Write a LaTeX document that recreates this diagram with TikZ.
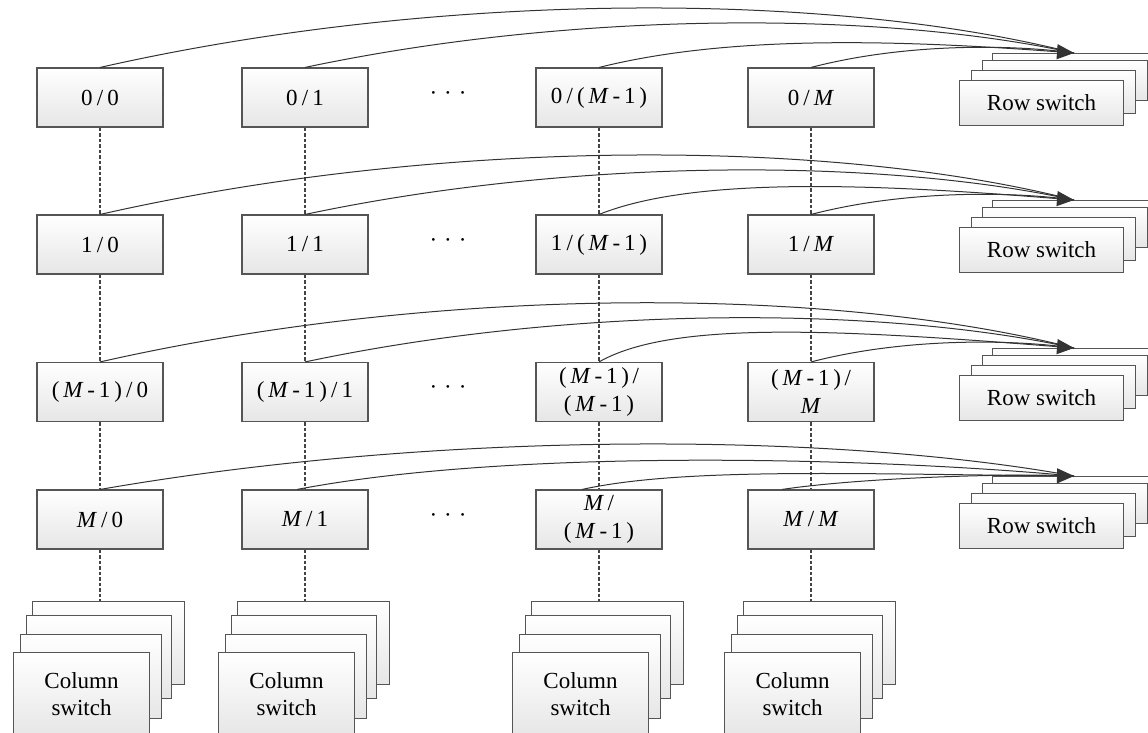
\documentclass[tikz,border=0pt]{standalone}
\usepackage{fontspec}
\setmainfont{Liberation Serif}
\usetikzlibrary{arrows.meta,calc}
\definecolor{edge}{HTML}{555555}
\definecolor{ln}{HTML}{333333}
\definecolor{dotc}{HTML}{444444}
\definecolor{shadeclr}{HTML}{E6E6E6}
\newcommand\Mone{(\,\textit{M}\,-\,1\,)}
\newcommand\slsep{\hspace{0.18em}/\hspace{0.18em}}
\begin{document}
\begin{tikzpicture}[x=1pt,y=-1pt,
  box/.style={draw=edge, line width=1.1pt, top color=white, bottom color=shadeclr,
    minimum width=126pt, minimum height=59pt, inner sep=0pt, align=center,
    font=\fontsize{23}{28}\selectfont},
  layer/.style={draw=edge, line width=1.1pt, top color=white, bottom color=shadeclr,
    inner sep=0pt, anchor=north west, align=center, font=\fontsize{23}{27}\selectfont},
  dotline/.style={draw=dotc, line width=1.8pt, dash pattern=on 3.5pt off 2pt},
  link/.style={draw=ln, line width=1pt},
  tipped/.style={link, -{Triangle[length=17pt,width=15pt]}},
  dotsx/.style={font=\fontsize{23}{28}\selectfont, inner sep=0pt}
]
\useasboundingbox (0,0) rectangle (1148,733);
\clip (0,0) rectangle (1148,733);

% grid boxes
\node[box] (b00) at (100,97.5) {0\slsep0};
\node[box] (b01) at (305,97.5) {0\slsep1};
\node[box] (b02) at (599,97.5) {0\slsep\Mone};
\node[box] (b03) at (811,97.5) {0\slsep\textit{M}};
\node[box] (b10) at (100,244.5) {1\slsep0};
\node[box] (b11) at (305,244.5) {1\slsep1};
\node[box] (b12) at (599,244.5) {1\slsep\Mone};
\node[box] (b13) at (811,244.5) {1\slsep\textit{M}};
\node[box] (b20) at (100,392) {\Mone\slsep0};
\node[box] (b21) at (305,392) {\Mone\slsep1};
\node[box] (b22) at (599,392) {\Mone\hspace{0.15em}/\\\Mone};
\node[box] (b23) at (811,392) {\Mone\hspace{0.15em}/\\\textit{M}};
\node[box] (b30) at (100,519.5) {\textit{M}\slsep0};
\node[box] (b31) at (305,519.5) {\textit{M}\slsep1};
\node[box] (b32) at (599,519.5) {\textit{M}\hspace{0.15em}/\\\Mone};
\node[box] (b33) at (811,519.5) {\textit{M}\slsep\textit{M}};

% ellipsis dots
\node[dotsx] (d0) at (448,96) {·\hspace{7pt}·\hspace{7pt}·};
\node[dotsx] (d1) at (448,243) {·\hspace{7pt}·\hspace{7pt}·};
\node[dotsx] (d2) at (448,390) {·\hspace{7pt}·\hspace{7pt}·};
\node[dotsx] (d3) at (448,518) {·\hspace{7pt}·\hspace{7pt}·};

% column switch stacks
\foreach \c/\cx in {0/100,1/305,2/599,3/811}{
  \node[layer, minimum width=152pt, minimum height=83pt] (cs\c d) at (\cx-68,601) {};
  \node[layer, minimum width=145pt, minimum height=83pt] (cs\c c) at (\cx-74,615) {};
  \node[layer, minimum width=141pt, minimum height=84pt] (cs\c b) at (\cx-80,634) {};
  \node[layer, minimum width=136pt, minimum height=84pt] (cs\c a) at (\cx-87,652) {Column\\switch};
}

% row switch stacks
\foreach \r/\ty in {0/53,1/200,2/348,3/476}{
  \node[layer, minimum width=168pt, minimum height=40pt] (rs\r d) at (992,\ty) {};
  \node[layer, minimum width=165pt, minimum height=40pt] (rs\r c) at (982,\ty+7) {};
  \node[layer, minimum width=164pt, minimum height=43pt] (rs\r b) at (971,\ty+17) {};
  \node[layer, minimum width=164pt, minimum height=45pt] (rs\r a) at (959,\ty+27) {Row switch};
  \coordinate (tip\r) at ($(rs\r d.north west)+(82,0)$);
}

% dotted column links
\foreach \c in {0,1,2,3}{
  \draw[dotline] (b0\c.south) -- (b1\c.north);
  \draw[dotline] (b1\c.south) -- (b2\c.north);
  \draw[dotline] (b2\c.south) -- (b3\c.north);
  \draw[dotline] (b3\c.south) -- (b3\c.south |- cs\c d.north);
}

% row links to row switches (rows 0-2)
\foreach \r in {0,1,2}{
  \draw[link] (b\r0.north) .. controls +(340,-77) and +(-243,-62) .. (tip\r);
  \draw[link] (b\r1.north) .. controls +(269,-57) and +(-192,-42) .. (tip\r);
  \draw[link] (b\r3.north) .. controls +(92,-24) and +(-65,-9) .. (tip\r);
}
\draw[tipped] (b02.north) .. controls +(120,-30) and +(-200,-15) .. (tip0);
\draw[tipped] (b12.north) .. controls +(90,-36) and +(-220,-18) .. (tip1);
\draw[tipped] (b22.north) .. controls +(70,-40) and +(-250,-20) .. (tip2);
% row 3 (flatter)
\draw[link] (b30.north) .. controls +(340,-59) and +(-243,-44) .. (tip3);
\draw[link] ([xshift=-8pt]b31.north) .. controls +(220,-42) and +(-195,-18) .. (tip3);
\draw[link] ([xshift=-29pt]b33.north) .. controls +(80,-12) and +(-60,-3) .. (tip3);
\draw[tipped] ([xshift=-17pt]b32.north) .. controls +(100,-22) and +(-220,-2) .. (tip3);
\end{tikzpicture}
\end{document}
